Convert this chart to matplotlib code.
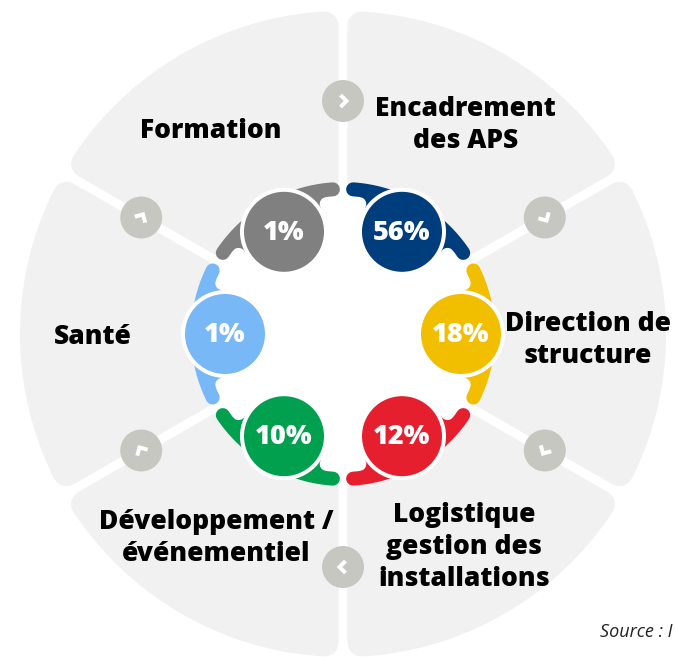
import numpy as np
import matplotlib
matplotlib.use("Agg")
import matplotlib.pyplot as plt
from matplotlib.patches import Polygon, Circle

labels = ["Encadrement\ndes APS", "Direction de\nstructure", "Logistique\ngestion des\ninstallations",
          "Développement /\névénementiel", "Santé", "Formation"]
values = [56, 18, 12, 10, 1, 1]
colors = ["#003D7D", "#F1BE00", "#E61F2F", "#00A04E", "#78B8F6", "#808080"]
mid_angles = [60, 0, -60, -120, 180, 120]

# label placement (angle, radius) around the wheel
label_ang = [59.5, -1.4, -60.4, -122, 180.7, 123]
label_rad = [242, 245, 245, 240, 250, 242]

W, H = 675, 660
cx, cy = 343, 334          # centre in pixels (from top-left)
R = 323                    # outer radius
gap = 9                    # white gap between sectors
rad_corner = 14
r_white = 150
r_ring = 145
ring_w = 14
r_bubble = 118
bubble = 40
border = 4
fil = 7                    # fillet radius between ring and bubble
r_arrow = 233

px = 72 / 100.0  # pixel -> points

fig = plt.figure(figsize=(W / 100, H / 100), dpi=100)
ax = fig.add_axes([0, 0, 1, 1])
ax.set_xlim(-cx, W - cx)
ax.set_ylim(-(H - cy), cy)
ax.set_aspect("equal")
ax.axis("off")

def unit(a):
	a = np.radians(a)
	return np.array([np.cos(a), np.sin(a)])

# grey sectors with rounded corners
h = gap / 2 + rad_corner
Rr = R - rad_corner
for m in mid_angles:
	a1, a2 = m - 30, m + 30
	u1, u2 = unit(a1), unit(a2)
	n1 = unit(a1 + 90)
	n2 = unit(a2 + 90)
	da = np.degrees(np.arcsin(h / Rr))
	arc = np.linspace(a1 + da, a2 - da, 80)
	pts = [100 * u1 + h * n1]
	pts += [Rr * unit(a) for a in arc]
	pts += [100 * u2 - h * n2]
	ax.add_patch(Polygon(pts, closed=True, fc="#F1F1F1", ec="#F1F1F1",
	                     lw=2 * rad_corner * px, joinstyle="round", zorder=1))

ax.add_patch(Circle((0, 0), r_white, fc="white", ec="none", zorder=2))

# small arrow buttons on the gaps
for m in mid_angles:
	a = m + 30
	c = r_arrow * unit(a)
	ax.add_patch(Circle(c, 21, fc="#C7C7C1", ec="none", zorder=3))
	t = unit(a - 90)   # clockwise direction
	p = unit(a)
	tip = c + 3.5 * t
	arm = np.array([tip - 6 * t + 6 * p, tip, tip - 6 * t - 6 * p])
	ax.plot(arm[:, 0], arm[:, 1], color="white", lw=4 * px,
	        solid_capstyle="butt", solid_joinstyle="miter", zorder=4)

# fillet geometry (same for every bubble)
r_in = r_ring - ring_w / 2
rb_out = bubble + border
rf = r_in - fil
cosphi = (r_bubble**2 + rf**2 - (rb_out + fil)**2) / (2 * r_bubble * rf)
phi = np.degrees(np.arccos(cosphi))

# coloured ring segments and bubbles
for v, col, m in zip(values, colors, mid_angles):
	d = 4
	aa = np.radians(np.linspace(m - 30 + d, m + 30 - d, 100))
	ax.plot(r_ring * np.cos(aa), r_ring * np.sin(aa), color=col, lw=ring_w * px,
	        solid_capstyle="round", zorder=5)
	B = r_bubble * unit(m)
	for s in (-1, 1):
		F = rf * unit(m + s * phi)
		dirb = (B - F) / np.linalg.norm(B - F)
		T_b = F + fil * dirb
		a_start = np.arctan2(dirb[1], dirb[0])
		a_end = np.radians(m + s * phi)
		diff = (a_end - a_start + np.pi) % (2 * np.pi) - np.pi
		arc = [F + fil * np.array([np.cos(a_start + k * diff), np.sin(a_start + k * diff)])
		       for k in np.linspace(0, 1, 30)]
		ring_side = [(r_in + 3) * unit(a) for a in np.linspace(m + s * phi, m, 20)]
		pts = [B] + [T_b] + arc + ring_side
		ax.add_patch(Polygon(pts, closed=True, fc=col, ec="none", zorder=5))
	ax.add_patch(Circle(B, bubble + border / 2, fc=col, ec="white", lw=border * px, zorder=6))
	ax.text(B[0], B[1] - 1, f"{v}%", color="white", fontsize=19.5, fontweight="heavy",
	        family="Open Sans", ha="center", va="center", zorder=7)

for lab, a, r in zip(labels, label_ang, label_rad):
	lp = r * unit(a)
	ax.text(lp[0], lp[1], lab, color="black", fontsize=19, fontweight="heavy",
	        family="Open Sans", ha="center", va="center", linespacing=1.3, zorder=7)

ax.text(673 - cx, -(632 - cy), "Source : I", fontsize=13, style="italic",
        family="Open Sans", color="#222222", ha="right", va="center", zorder=7)

plt.savefig("out.png", dpi=100)
